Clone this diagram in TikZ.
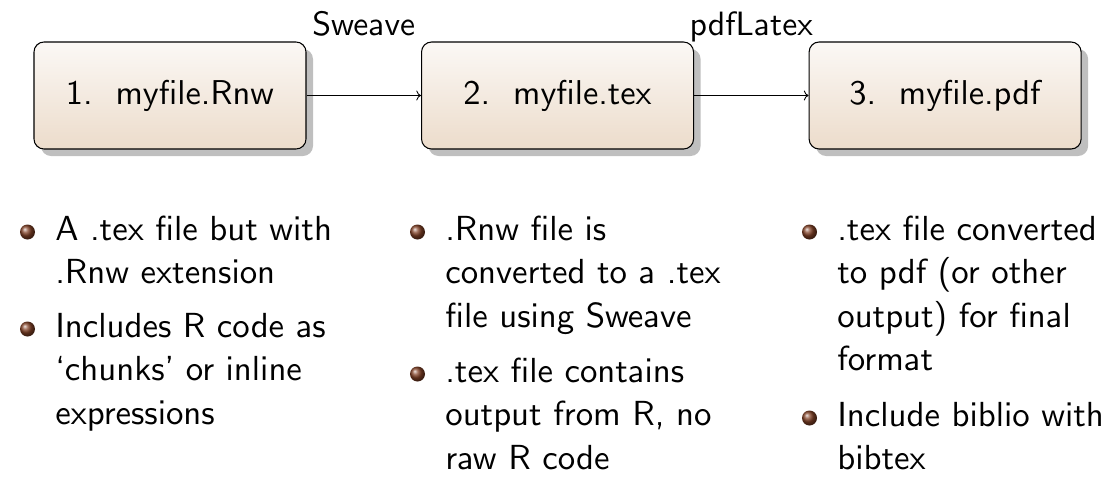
\documentclass[tikz,border=0pt]{standalone}
\usepackage{tikz}
\usetikzlibrary{arrows.meta,positioning,shadows}

\definecolor{boxtop}{RGB}{251,248,245}
\definecolor{boxbottom}{RGB}{236,220,203}
\definecolor{ballbrown}{RGB}{130,65,38}

\font\boxfont=cmss10 at 19.6pt
\font\bodyfont=cmss10 at 19.8pt
\font\toolfont=cmss10 at 19.2pt
\newcommand{\itemlines}[1]{\begin{tabular}[t]{@{}l@{}}#1\end{tabular}}

\begin{document}
\begin{tikzpicture}[
  file/.style={rectangle, draw, line width=0.6pt, rounded corners=0.2cm,
    minimum width=5.44cm, minimum height=2.14cm,
    top color=boxtop, bottom color=boxbottom,
    drop shadow={shadow xshift=0.14cm, shadow yshift=-0.14cm,
      fill=black!25, opacity=1},
    font=\boxfont},
  flow/.style={-To, line width=0.5pt},
  tool/.style={anchor=base, yshift=1.2cm, font=\toolfont},
  point/.style={anchor=base west, inner sep=0pt,
    font={\fontsize{19.8}{24.8}\selectfont\bodyfont}},
  ballpt/.style={circle, inner sep=0pt, minimum size=0.3cm,
    ball color=ballbrown},
]
  \useasboundingbox (0,0) rectangle (22.36,-10.04);

  % the three files
  \node[file] (rnw) at (3.40,-1.91) {1.~~myfile.Rnw};
  \node[file, right=2.29cm of rnw] (tex) {2.~~myfile.tex};
  \node[file, right=2.29cm of tex] (pdf) {3.~~myfile.pdf};

  \draw[flow] (rnw) -- node[tool] {Sweave} (tex);
  \draw[flow] (tex) -- node[tool] {pdfLatex} (pdf);

  % notes under each file
  \node[point] (rnwa) at (1.10,-4.80) {\itemlines{A .tex file but with\\.Rnw extension}};
  \node[point] (rnwb) at (1.10,-6.74) {\itemlines{Includes R code as\\`chunks' or inline\\expressions}};

  \node[point] (texa) at (8.90,-4.80) {\itemlines{.Rnw file is\\converted to a .tex\\file using Sweave}};
  \node[point] (texb) at (8.90,-7.64) {\itemlines{.tex file contains\\output from R, no\\raw R code}};

  \node[point] (pdfa) at (16.74,-4.80) {\itemlines{.tex file converted\\to pdf (or other\\output) for final\\format}};
  \node[point] (pdfb) at (16.74,-8.52) {\itemlines{Include biblio with\\bibtex}};

  \foreach \n in {rnwa,rnwb,texa,texb,pdfa,pdfb}
    \node[ballpt] (\n-ball) at ([xshift=-0.55cm, yshift=0.16cm]\n.base west) {};
\end{tikzpicture}
\end{document}
